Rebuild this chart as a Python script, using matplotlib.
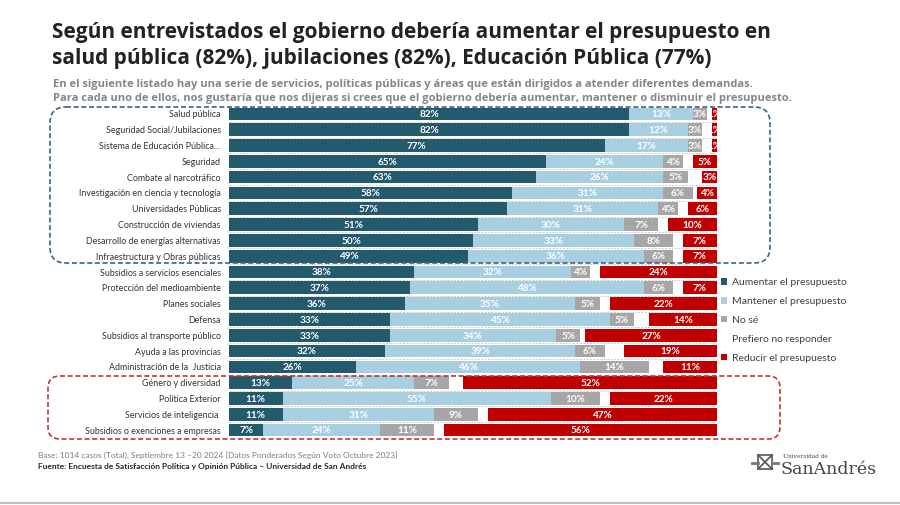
import numpy as np
import matplotlib.pyplot as plt
from matplotlib.patches import FancyBboxPatch, Patch, Rectangle

categorias = ['Salud pública', 'Seguridad Social/Jubilaciones', 'Sistema de Educación Pública...',
              'Seguridad', 'Combate al narcotráfico', 'Investigación en ciencia y tecnología',
              'Universidades Públicas', 'Construcción de viviendas', 'Desarrollo de energías alternativas',
              'Infraestructura y Obras públicas', 'Subsidios a servicios esenciales',
              'Protección del medioambiente', 'Planes sociales', 'Defensa',
              'Subsidios al transporte público', 'Ayuda a las provincias',
              'Administración de la  Justicia', 'Género y diversidad', 'Política Exterior',
              'Servicios de inteligencia ', 'Subsidios o exenciones a empresas']
aumentar = [82, 82, 77, 65, 63, 58, 57, 51, 50, 49, 38, 37, 36, 33, 33, 32, 26, 13, 11, 11, 7]
mantener = [13, 12, 17, 24, 26, 31, 31, 30, 33, 36, 32, 48, 35, 45, 34, 39, 46, 25, 55, 31, 24]
no_se = [3, 3, 3, 4, 5, 6, 4, 7, 8, 6, 4, 6, 5, 5, 5, 6, 14, 7, 10, 9, 11]
no_responde = [1, 2, 2, 2, 3, 1, 2, 2, 2, 2, 2, 2, 2, 3, 1, 4, 3, 3, 2, 2, 2]
reducir = [1, 1, 1, 5, 3, 4, 6, 10, 7, 7, 24, 7, 22, 14, 27, 19, 11, 52, 22, 47, 56]

series = [
    ('Aumentar el presupuesto', aumentar, '#245a6e', True),
    ('Mantener el presupuesto', mantener, '#a7cfe1', True),
    ('No sé', no_se, '#a6a6a6', True),
    ('Prefiero no responder', no_responde, '#ffffff', False),
    ('Reducir el presupuesto', reducir, '#c00000', True),
]

W, H = 900, 505
fig = plt.figure(figsize=(9, 5.05), dpi=100)
ax = fig.add_axes([229 / W, 1 - 438 / H, (717 - 229) / W, (438 - 106) / H])

y = np.arange(len(categorias))
left = np.zeros(len(categorias))
handles = []
for nombre, vals, color, etiqueta in series:
    vals = np.array(vals, dtype=float)
    b = ax.barh(y, vals, left=left, height=0.8, color=color, label=nombre)
    handles.append(b)
    if etiqueta:
        for yi, l, v in zip(y, left, vals):
            ax.text(l + v / 2, yi + 0.05, f'{int(v)}%', ha='center', va='center', color='white',
                    fontsize=7.2, fontweight='bold', family='Lato', clip_on=True)
    left += vals

# lineas punteadas entre filas
ax.hlines(y[:-1] + 0.5, 0, 100, colors='#cccccc', linestyles=(0, (2, 1.5)), lw=0.7)

ax.set_xlim(0, 100)
ax.set_ylim(len(categorias) - 0.5, -0.5)
ax.set_yticks(y, categorias)
ax.set_xticks([])
ax.tick_params(axis='y', length=0, pad=6, labelsize=6.4, labelcolor='#333333')
for lab in ax.get_yticklabels():
    lab.set_family('Lato')
for s in ax.spines.values():
    s.set_visible(False)

# capa para textos y recuadros
ov = fig.add_axes([0, 0, 1, 1])
ov.set_xlim(0, W)
ov.set_ylim(H, 0)
ov.axis('off')
ov.patch.set_alpha(0)

ov.text(52, 38, 'Según entrevistados el gobierno debería aumentar el presupuesto en',
        fontsize=15, fontweight='bold', family='Open Sans', color='#222222', va='baseline')
ov.text(52, 64, 'salud pública (82%), jubilaciones (82%), Educación Pública (77%)',
        fontsize=15, fontweight='bold', family='Open Sans', color='#222222', va='baseline')
ov.text(53, 87, 'En el siguiente listado hay una serie de servicios, políticas públicas y áreas que están dirigidos a atender diferentes demandas.',
        fontsize=8.0, fontweight='bold', family='Open Sans', color='#858585', va='baseline')
ov.text(53, 101, 'Para cada uno de ellos, nos gustaría que nos dijeras si crees que el gobierno debería aumentar, mantener o disminuir el presupuesto.',
        fontsize=8.0, fontweight='bold', family='Open Sans', color='#858585', va='baseline')

ov.add_patch(FancyBboxPatch((50, 107), 720, 156, boxstyle='round,pad=0,rounding_size=16',
                            fill=False, ec='#3f627e', lw=1.2, ls=(0, (3, 1.6))))
ov.add_patch(FancyBboxPatch((48, 376), 732, 63, boxstyle='round,pad=0,rounding_size=12',
                            fill=False, ec='#c0343a', lw=1.2, ls=(0, (3, 1.6))))

fig.legend(handles=[handles[0], handles[1], handles[2], Patch(color='white'), handles[4]],
           labels=[s[0] for s in series], loc='upper left', bbox_to_anchor=(721 / W, 1 - 278 / H),
           frameon=False, prop={'family': 'Lato', 'size': 7.5}, labelcolor='#404040',
           handlelength=0.6, handleheight=0.6, handletextpad=0.45, labelspacing=0.95,
           borderpad=0, borderaxespad=0)

ov.text(38, 455, 'Base: 1014 casos (Total), Septiembre 13 –20 2024 [Datos Ponderados Según Voto Octubre 2023]',
        fontsize=6.0, family='Lato', color='#7f7f7f', va='center')
ov.text(38, 467, 'Fuente: Encuesta de Satisfacción Política y Opinión Pública – Universidad de San Andrés',
        fontsize=6.0, fontweight='bold', family='Lato', color='#262626', va='center')

# logo
ov.add_patch(Rectangle((758, 455), 14, 14, fc='none', ec='#555555', lw=1.2))
ov.plot([758, 772], [455, 469], color='#555555', lw=1.2)
ov.plot([758, 772], [469, 455], color='#555555', lw=1.2)
ov.plot([752, 758], [463, 463], color='#777777', lw=2)
ov.plot([772, 778], [463, 463], color='#777777', lw=2)
ov.text(783, 457, 'Universidad de', fontsize=4.2, family='DejaVu Serif', color='#444444', va='center')
ov.text(780, 469, 'SanAndrés', fontsize=12.5, family='DejaVu Serif', color='#444444', va='center')

ov.plot([0, W], [503, 503], color='#c0c0c0', lw=1.5)

fig.savefig('out.png', dpi=100)
